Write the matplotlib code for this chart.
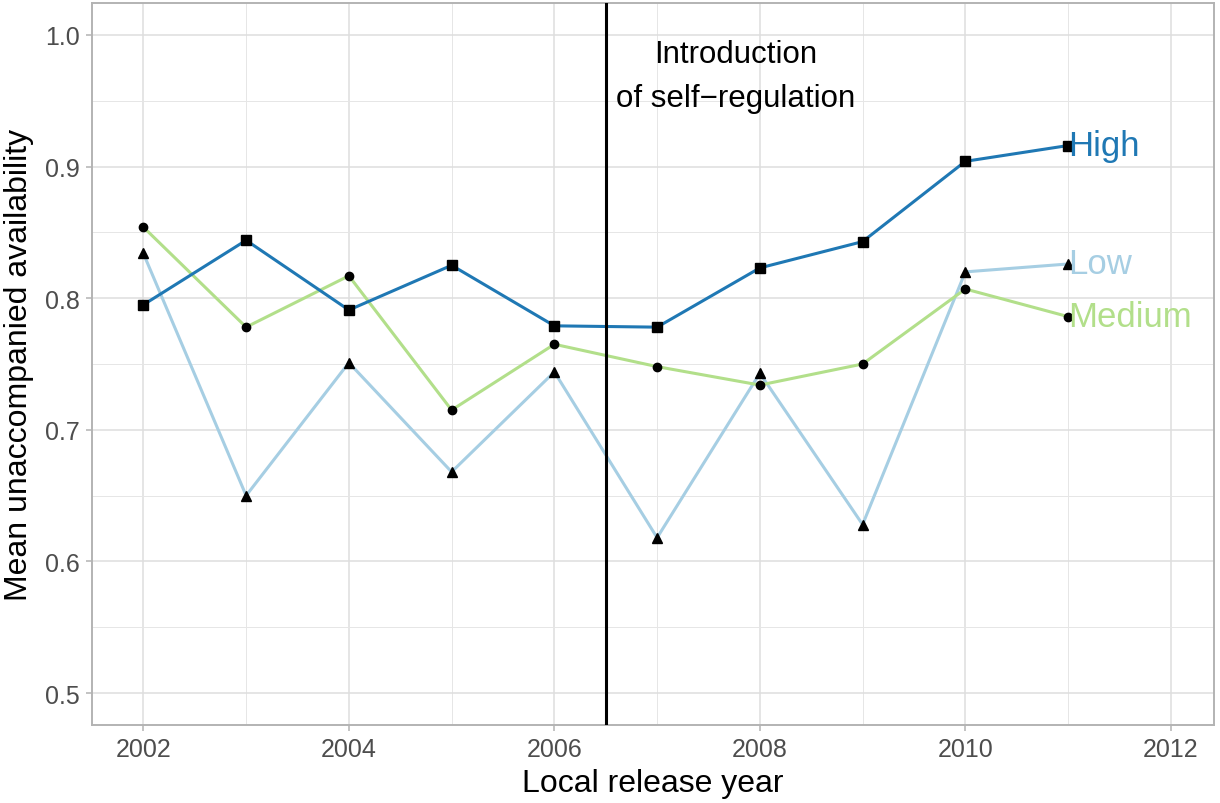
import matplotlib
matplotlib.use('Agg')
import matplotlib.pyplot as plt
from matplotlib.ticker import MultipleLocator

plt.rcParams['font.family'] = ['Liberation Sans', 'DejaVu Sans']

years = [2002, 2003, 2004, 2005, 2006, 2007, 2008, 2009, 2010, 2011]
high = [0.795, 0.844, 0.791, 0.825, 0.779, 0.778, 0.823, 0.843, 0.904, 0.916]
low = [0.834, 0.650, 0.751, 0.668, 0.744, 0.618, 0.743, 0.628, 0.820, 0.826]
medium = [0.854, 0.778, 0.817, 0.715, 0.765, 0.748, 0.734, 0.750, 0.807, 0.786]
groups = ['High', 'Low', 'Medium']
colors = {'High': '#1F78B4', 'Low': '#A6CEE3', 'Medium': '#B2DF8A'}
markers = {'High': 's', 'Low': '^', 'Medium': 'o'}
msize = {'High': 7.5, 'Low': 7.5, 'Medium': 6}
policy_year = 2006.5

fig = plt.figure(figsize=(12.2, 8.04), dpi=100)
ax = fig.add_axes([92/1220, 1-726/804, (1214-92)/1220, (726-4)/804])

ax.set_xlim(2001.5, 2012.42)
ax.set_ylim(0.4757, 1.0243)
ax.xaxis.set_major_locator(MultipleLocator(2))
ax.xaxis.set_minor_locator(MultipleLocator(1))
ax.yaxis.set_major_locator(MultipleLocator(0.1))
ax.yaxis.set_minor_locator(MultipleLocator(0.05))
ax.grid(True, which='major', color='#DEDEDE', lw=1.1)
ax.grid(True, which='minor', color='#E6E6E6', lw=0.7)
ax.set_axisbelow(True)
for s in ax.spines.values():
    s.set_color('#B3B3B3'); s.set_linewidth(1.4)
ax.tick_params(which='major', length=4.5, width=1.1, color='#B3B3B3', labelcolor='#4D4D4D', labelsize=18, pad=4)
ax.tick_params(which='minor', length=0)
ax.yaxis.set_major_formatter(matplotlib.ticker.FormatStrFormatter('%.1f'))

data = {'High': high, 'Low': low, 'Medium': medium}
for g in ['Low', 'Medium', 'High']:
    ax.plot(years, data[g], color=colors[g], lw=2.2, zorder=3)
for g in ['Low', 'Medium', 'High']:
    ax.plot(years, data[g], ls='none', marker=markers[g], ms=msize[g], color='black', zorder=4)
    ax.text(years[-1], data[g][-1], g, color=colors[g], fontsize=25, ha='left', va='center', zorder=5)

ax.axvline(policy_year, color='black', lw=2.2, zorder=3)
ax.text(2007.76, 0.969, 'Introduction\nof self\u2212regulation', ha='center', va='center',
        fontsize=22.5, linespacing=1.6, color='black')

ax.set_xlabel('Local release year', fontsize=23, labelpad=5)
ax.set_ylabel('Mean unaccompanied availability', fontsize=23, labelpad=8)

plt.savefig('out.png', dpi=100, facecolor='white')
